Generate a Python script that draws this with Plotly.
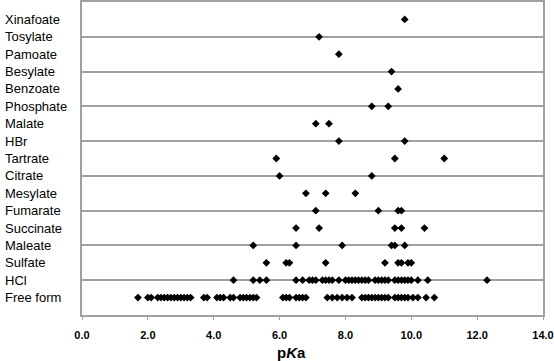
import plotly.graph_objects as go

# Categories from bottom to top
categories = ["Free form", "HCl", "Sulfate", "Maleate", "Succinate", "Fumarate",
              "Mesylate", "Citrate", "Tartrate", "HBr", "Malate", "Phosphate",
              "Benzoate", "Besylate", "Pamoate", "Tosylate", "Xinafoate"]

free_form = [1.7, 2.0, 2.1, 2.3, 2.4, 2.5, 2.6, 2.7, 2.8, 2.9, 3.0, 3.1, 3.2, 3.3,
             3.7, 3.8, 4.1, 4.2, 4.3, 4.5, 4.6, 4.8, 4.9, 5.0, 5.1, 5.2, 5.3,
             6.1, 6.2, 6.3, 6.5, 6.6, 6.7, 6.8,
             7.45, 7.6, 7.75, 7.9, 8.05, 8.2,
             8.5, 8.6, 8.7, 8.8, 8.9, 9.0, 9.1, 9.2, 9.3,
             9.5, 9.6, 9.7, 9.8, 9.9, 10.05, 10.2, 10.45, 10.7]
hcl = [4.6, 5.2, 5.4, 5.6, 6.5, 6.7, 6.9, 7.0, 7.1, 7.3, 7.4, 7.5, 7.6, 7.8,
       8.0, 8.1, 8.2, 8.3, 8.4, 8.5, 8.6, 8.7, 8.9, 9.0, 9.1, 9.2, 9.3,
       9.5, 9.6, 9.7, 9.8, 9.9, 10.0, 10.2, 10.5, 12.3]
sulfate = [5.6, 6.2, 6.3, 7.4, 9.2, 9.6, 9.7, 9.9, 10.0]
maleate = [5.2, 6.5, 7.9, 9.4, 9.5, 9.8]
succinate = [6.5, 7.2, 9.5, 9.7, 10.4]
fumarate = [7.1, 9.0, 9.6, 9.7]
mesylate = [6.8, 7.4, 8.3]
citrate = [6.0, 8.8]
tartrate = [5.9, 9.5, 11.0]
hbr = [7.8, 9.8]
malate = [7.1, 7.5]
phosphate = [8.8, 9.3]
benzoate = [9.6]
besylate = [9.4]
pamoate = [7.8]
tosylate = [7.2]
xinafoate = [9.8]

series = [free_form, hcl, sulfate, maleate, succinate, fumarate, mesylate,
          citrate, tartrate, hbr, malate, phosphate, benzoate, besylate,
          pamoate, tosylate, xinafoate]

x_ticks = [0, 2, 4, 6, 8, 10, 12, 14]
grid_vals = [2, 4, 6, 8, 10, 12, 14, 16]

xs, ys = [], []
for i, vals in enumerate(series):
    for v in vals:
        xs.append(v)
        ys.append(i + 1)

fig = go.Figure()
fig.add_trace(go.Scatter(
    x=xs, y=ys, mode="markers",
    marker=dict(symbol="diamond", size=6, color="black"),
    showlegend=False, hoverinfo="x+y"
))

for i, name in enumerate(categories):
    fig.add_annotation(
        x=0, xref="paper", xshift=-79, y=i + 1, yref="y",
        text=name, showarrow=False, xanchor="left", yanchor="middle",
        font=dict(family="Liberation Sans, Arial", size=13, color="black")
    )

fig.add_annotation(
    x=0.455, xref="paper", y=0, yref="paper", yshift=-37,
    text="p<i>K</i>a", showarrow=False, xanchor="center", yanchor="middle",
    font=dict(family="Liberation Sans, Arial", size=15, color="black", weight="bold")
)

fig.update_layout(
    width=554, height=361,
    margin=dict(l=82, r=11, t=2, b=46),
    paper_bgcolor="white", plot_bgcolor="white",
    xaxis=dict(
        range=[0, 14], tickvals=x_ticks, tickformat=".1f",
        showgrid=False, zeroline=False,
        showline=True, linecolor="#a0a0a0", linewidth=1.5, mirror=True,
        ticks="outside", ticklen=3, tickcolor="#a0a0a0", tickwidth=1,
        tickfont=dict(family="Liberation Sans, Arial", size=11, color="black", weight="bold"),
        ticklabelstandoff=6, automargin=False,
    ),
    yaxis=dict(
        range=[0, 18], tickvals=grid_vals, showticklabels=False,
        showgrid=True, gridcolor="#a0a0a0", gridwidth=1.5,
        zeroline=False, ticks="", automargin=False,
        showline=True, linecolor="#a0a0a0", linewidth=1.5, mirror=True,
    ),
)

fig.write_html("out.html", config={"displayModeBar": False},
               post_script="document.body.style.margin='0';document.body.style.overflow='hidden';")
